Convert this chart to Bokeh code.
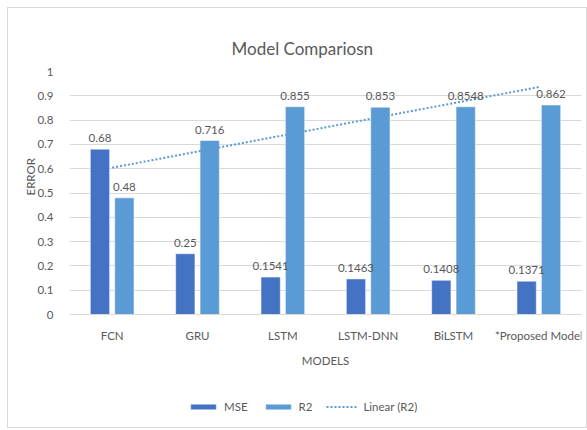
import numpy as np
from bokeh.plotting import figure
from bokeh.models import (ColumnDataSource, FactorRange, Range1d, FixedTicker,
                          Legend, LegendItem, Title)
from bokeh.core.properties import value
from bokeh.transform import dodge
from bokeh.embed import file_html
from bokeh.resources import INLINE

# --- data -------------------------------------------------------------
models = ["FCN", "GRU", "LSTM", "LSTM-DNN", "BiLSTM", "*Proposed Model"]
mse = [0.68, 0.25, 0.1541, 0.1463, 0.1408, 0.1371]
r2 = [0.48, 0.716, 0.855, 0.853, 0.8548, 0.862]
y_ticks = [0, 0.1, 0.2, 0.3, 0.4, 0.5, 0.6, 0.7, 0.8, 0.9, 1]
y_tick_labels = ["0", "0.1", "0.2", "0.3", "0.4", "0.5", "0.6", "0.7", "0.8", "0.9", "1"]

# linear trend fitted to the R2 series over category index 1..n
idx = np.arange(1, len(r2) + 1)
slope, intercept = np.polyfit(idx, r2, 1)
r2_trend = list(slope * idx + intercept)

FONT = "Lato"
FS = "11.5px"
TEXT = "#595959"
GRID = "#D9D9D9"
MSE_COLOR = "#4472C4"
R2_COLOR = "#5B9BD5"

src = ColumnDataSource(dict(
    models=models, mse=mse, r2=r2,
    mse_txt=[str(v) for v in mse], r2_txt=[str(v) for v in r2],
    trend=r2_trend,
))

# The frame runs down to the bottom of the chart so that the category axis
# (pinned at y = 0) and the legend both sit inside it.
FRAME_H = 421 - 63
Y_PX = 243.0                         # pixels per unit of error
y_start = -(FRAME_H - Y_PX) / Y_PX

p = figure(width=580, height=421, x_range=FactorRange(*models),
           y_range=Range1d(y_start, 1), output_backend="svg",
           toolbar_location=None,
           min_border_left=61, min_border_right=7,
           min_border_top=63, min_border_bottom=0)
p.margin = (7, 0, 0, 7)
p.styles = {"border": "1px solid #D9D9D9"}
p.outline_line_color = None
p.background_fill_color = "white"
p.border_fill_color = "white"
p.x_range.range_padding = 0

# title
p.title.text = "Model Compariosn"
p.title.align = "left"
p.title.offset = 162
p.title.standoff = 26
p.title.text_font = FONT
p.title.text_font_size = "17px"
p.title.text_font_style = "normal"
p.title.text_color = TEXT

OFF = 0.143
W = 0.226
b1 = p.vbar(x=dodge("models", -OFF, range=p.x_range), top="mse", width=W,
            source=src, fill_color=MSE_COLOR, line_color="white", line_width=0.5)
b2 = p.vbar(x=dodge("models", OFF, range=p.x_range), top="r2", width=W,
            source=src, fill_color=R2_COLOR, line_color="white", line_width=0.5)
tl = p.line(x="models", y="trend", source=src, line_color=R2_COLOR,
            line_width=2, line_dash="2 2")

for col, txt, off in (("mse", "mse_txt", -OFF), ("r2", "r2_txt", OFF)):
    p.text(x=dodge("models", off, range=p.x_range), y=col, text=txt, source=src,
           text_align="center", text_baseline="bottom", y_offset=-7,
           text_font=value(FONT), text_font_size=value(FS), text_color=TEXT)

# axes
p.yaxis.ticker = FixedTicker(ticks=y_ticks)
p.yaxis.major_label_overrides = {t: l for t, l in zip(y_ticks, y_tick_labels)}
p.yaxis.bounds = (0, 1)
p.yaxis.axis_line_color = None
p.yaxis.major_tick_line_color = None
p.yaxis.minor_tick_line_color = None
p.yaxis.major_label_standoff = 10
p.xaxis.fixed_location = 0
p.xaxis.axis_line_color = GRID
p.xaxis.major_tick_line_color = None
p.xaxis.major_label_standoff = 8
p.xaxis.axis_label = "MODELS"
p.xaxis.axis_label_standoff = 9
for ax in (p.xaxis, p.yaxis):
    ax.major_label_text_font = FONT
    ax.major_label_text_font_size = FS
    ax.major_label_text_color = TEXT
    ax.axis_label_text_font = FONT
    ax.axis_label_text_font_size = FS
    ax.axis_label_text_font_style = "normal"
    ax.axis_label_text_color = TEXT

p.xgrid.grid_line_color = None
p.ygrid.grid_line_color = GRID
p.ygrid.ticker = FixedTicker(ticks=y_ticks)

# y-axis title, sitting a little above the middle of the value range
p.add_layout(Title(text="ERROR", align="left", offset=234, standoff=-4,
                   text_font=FONT, text_font_size=FS,
                   text_font_style="normal", text_color=TEXT), "left")

# legend along the bottom of the chart
legend = Legend(items=[LegendItem(label="MSE", renderers=[b1]),
                       LegendItem(label="R2", renderers=[b2]),
                       LegendItem(label="Linear (R2)", renderers=[tl])],
                orientation="horizontal", location=(118, 16),
                glyph_width=32, glyph_height=7, label_height=14,
                label_width=5, label_standoff=5, spacing=14,
                padding=0, margin=0,
                border_line_color=None, background_fill_alpha=0,
                label_text_font=FONT, label_text_font_size=FS,
                label_text_color=TEXT)
p.add_layout(legend)

open("out.html", "w").write(file_html(p, INLINE))
